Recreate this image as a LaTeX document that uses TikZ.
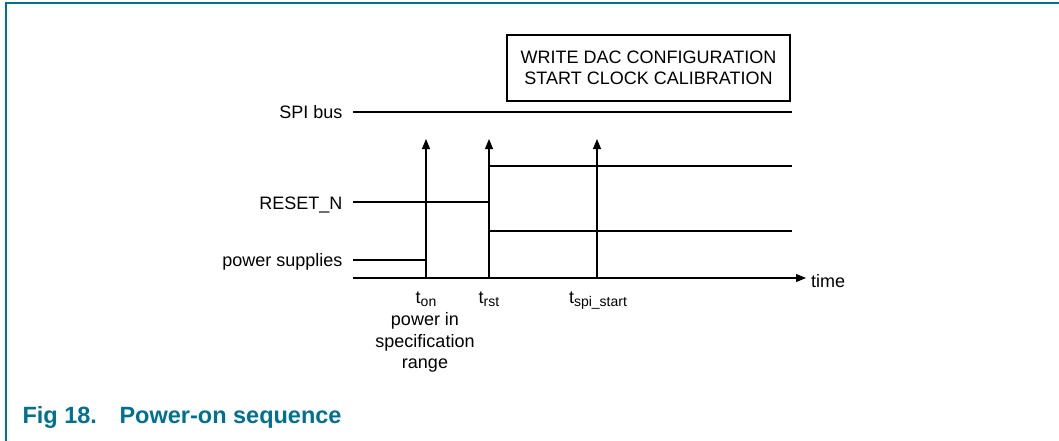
\documentclass[tikz,border=0pt]{standalone}
\usepackage{fontspec}
\setmainfont{Liberation Sans}
\usetikzlibrary{arrows.meta}
\definecolor{figteal}{RGB}{0,113,143}
\newcommand{\tsub}[1]{t\raisebox{-3.5pt}{\fontsize{14}{14}\selectfont #1}}

\begin{document}
\begin{tikzpicture}[x=1pt,y=-1pt,line width=1.1pt,
    font=\fontsize{18}{21.5}\selectfont,
    tarrow/.style={-{Triangle[length=10pt,width=8pt]}}]

  \useasboundingbox (0,0) rectangle (1059,441);
  \draw[figteal,line width=1.6pt] (6,441) -- (6,3) -- (1059,3);

  % signal names
  \begin{scope}[every node/.style={anchor=base east,inner sep=0pt}]
    \node (spi) at (343,119) {SPI bus};
    \node (rst) at (343,209) {RESET\_N};
    \node (pwr) at (343,266) {power supplies};
  \end{scope}

  \node (cfg) at (648.5,68) [draw,line width=2.4pt,align=center,
    minimum width=283pt,minimum height=66pt,inner sep=0pt]
    {WRITE DAC CONFIGURATION\\START CLOCK CALIBRATION};

  \coordinate (spiL) at (353,112);
  \coordinate (spiR) at (792,112);
  \coordinate (rstL) at (353,202);
  \coordinate (rstE) at (489,202);
  \coordinate (hiL)  at (489,166);
  \coordinate (hiR)  at (792,166);
  \coordinate (loL)  at (489,231);
  \coordinate (loR)  at (792,231);
  \coordinate (pwrL) at (353,260);
  \coordinate (pwrE) at (426,260);
  \coordinate (axL)  at (353,278);
  \coordinate (axR)  at (806,278);
  \coordinate (on0)  at (426,278);
  \coordinate (on1)  at (426,139);
  \coordinate (rs0)  at (489,278);
  \coordinate (rs1)  at (489,139);
  \coordinate (sp0)  at (597,278);
  \coordinate (sp1)  at (597,139);

  \draw (spiL) -- (spiR);
  \draw (rstL) -- (rstE);
  \draw (hiL) -- (hiR);
  \draw (loL) -- (loR);
  \draw (pwrL) -- (pwrE);
  \draw[tarrow] (axL) -- (axR);
  \draw[tarrow] (on0) -- (on1);
  \draw[tarrow] (rs0) -- (rs1);
  \draw[tarrow] (sp0) -- (sp1);

  % time labels
  \begin{scope}[every node/.style={anchor=base,inner sep=0pt}]
    \node (time) at (828,287) {time};
    \node (ton)  at (426,303) {\tsub{on}};
    \node (trst) at (489,303) {\tsub{rst}};
    \node (tspi) at (598,303) {\tsub{spi\_start}};
  \end{scope}
  \node (spec) at (425,312) [anchor=north,inner sep=0pt,align=center]
    {power in\\specification\\range};

  \node (fig) at (22,423) [anchor=base west,inner sep=0pt,text=figteal,
    font=\fontsize{23.5}{28}\selectfont\bfseries] {Fig 18.};
  \node (cap) at (119,423) [anchor=base west,inner sep=0pt,text=figteal,
    font=\fontsize{23.5}{28}\selectfont\bfseries] {Power-on sequence};

\end{tikzpicture}
\end{document}
